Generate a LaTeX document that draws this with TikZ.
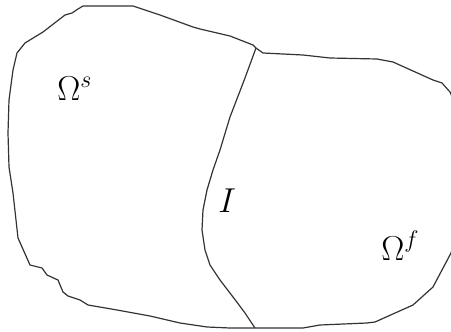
\documentclass[tikz,border=0pt]{standalone}
\usepackage{amsmath, amssymb}
\usepackage{tikz}
\usetikzlibrary{positioning, calc}
\definecolor{EdgeGray}{HTML}{333333}

\tikzset{
  domainline/.style={draw=EdgeGray, line width=0.6pt, line join=round},
  domainlabel/.style={inner sep=0pt, font=\fontsize{17.5}{20}\selectfont}
}

\begin{document}
\begin{tikzpicture}[x=0.5pt, y=-0.5pt]
    \useasboundingbox (0,0) rectangle (451,332);
    \clip (0,0) rectangle (451,332);

    % Outer boundary of both domains
    \draw[domainline] (256,48) -- (253,45) -- (230,36) -- (200,29) -- (193,27)
        -- (160,15) -- (133,6) -- (83,6) -- (78,9) -- (72,13) -- (65,15)
        -- (43,32) -- (25,43) -- (17,53) -- (13,70) -- (9,100) -- (8,133)
        -- (9,167) -- (13,193) -- (18,238) -- (22,247) -- (30,265) -- (42,268)
        -- (47,275) -- (58,280) -- (63,292) -- (68,296) -- (80,300) -- (88,305)
        -- (117,310) -- (150,316) -- (180,323) -- (207,327) -- (230,328)
        -- (255,328) -- (303,328) -- (320,325) -- (367,323) -- (375,322)
        -- (413,305) -- (433,287) -- (442,270) -- (451,253) -- (458,230)
        -- (462,170) -- (458,110) -- (450,92) -- (442,83) -- (433,80)
        -- (393,62) -- (377,59) -- (330,58) -- (303,55) -- (263,53) -- cycle;

    % Interface between solid and fluid
    \draw[domainline] (256,48) -- (245,78) -- (230,117) -- (220,150) -- (213,170)
        -- (207,190) -- (203,210) -- (202,230) -- (205,250) -- (210,265)
        -- (220,280) -- (233,297) -- (245,313) -- (255,328);

    % Labels
    \node[domainlabel, anchor=base west] (solid) at (57,100) {$\Omega^s$};
    \node[domainlabel, anchor=base west] (iface) at (218,213) {$I$};
    \node[domainlabel, anchor=base west] (fluid) at (381,260) {$\Omega^f$};
\end{tikzpicture}
\end{document}
